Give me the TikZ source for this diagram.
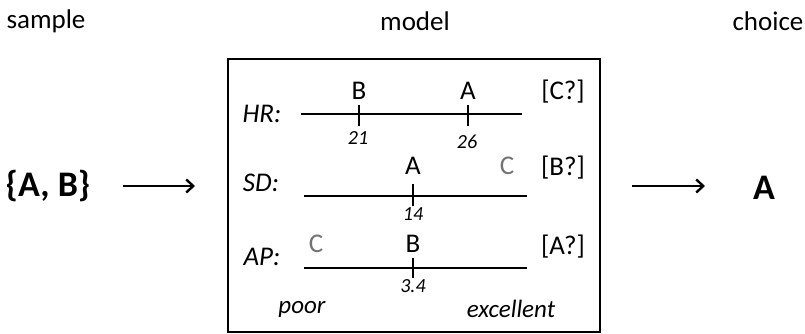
\documentclass[tikz,border=0pt]{standalone}
\usepackage{fontspec}
\setmainfont{Carlito}
\usetikzlibrary{arrows.meta}
\begin{document}
\begin{tikzpicture}[x=1pt,y=-1pt,
  title/.style={font=\fontsize{27}{30}\selectfont},
  big/.style={font=\fontsize{36}{40}\selectfont\bfseries},
  lab/.style={font=\fontsize{27}{30}\selectfont},
  glab/.style={lab,text=black!55},
  axname/.style={font=\fontsize{27}{30}\selectfont\itshape},
  num/.style={font=\fontsize{20}{24}\selectfont\itshape},
  endlab/.style={font=\fontsize{25}{28}\selectfont\itshape},
  scaleline/.style={line width=2.6pt},
  tickmark/.style={line width=1.4pt},
  arr/.style={line width=2.4pt,-{Straight Barb[length=7pt,width=13pt,line width=2.4pt]}},
  inner sep=0pt]
\useasboundingbox (0,0) rectangle (805,334);
% titles
\node[title] (tsample) at (46,21) {sample};
\node[title] (tmodel) at (415,21) {model};
\node[title] (tchoice) at (768,21) {choice};
% sample and choice
\node[big] (setAB) at (48,186) {\{A, B\}};
\node[big] (chA) at (764,188) {A};
% model box
\node[draw,line width=2.8pt,minimum width=372pt,minimum height=273pt] (box) at (414,195.5) {};
% arrows
\coordinate (a1s) at (123,186);
\coordinate (a1e) at (195,186);
\coordinate (a2s) at (632,186);
\coordinate (a2e) at (705,186);
\draw[arr] (a1s) -- (a1e);
\draw[arr] (a2s) -- (a2e);
% HR
\node[axname] (hr) at (262,114) {HR:};
\coordinate (hrl) at (301,114);
\coordinate (hrr) at (522,114);
\draw[scaleline] (hrl) -- (hrr);
\coordinate (hrtB) at (359,105); \coordinate (hrbB) at (359,126);
\coordinate (hrtA) at (468,105); \coordinate (hrbA) at (468,126);
\draw[tickmark] (hrtB) -- (hrbB);
\draw[tickmark] (hrtA) -- (hrbA);
\node[lab] (hrB) at (359,91) {B};
\node[lab] (hrA) at (468,91) {A};
\node[num] (hr21) at (358,138) {21};
\node[num] (hr26) at (467,142) {26};
\node[lab] (hrq) at (563,92) {[C?]};
% SD
\node[axname] (sd) at (261,183) {SD:};
\coordinate (sdl) at (304,196);
\coordinate (sdr) at (527,196);
\draw[scaleline] (sdl) -- (sdr);
\coordinate (sdtA) at (413,184); \coordinate (sdbA) at (413,206);
\draw[tickmark] (sdtA) -- (sdbA);
\node[lab] (sdA) at (413,166) {A};
\node[glab] (sdC) at (507,166) {C};
\node[num] (sd14) at (413,214) {14};
\node[lab] (sdq) at (563,168) {[B?]};
% AP
\node[axname] (ap) at (262,257) {AP:};
\coordinate (apl) at (304,268);
\coordinate (apr) at (527,268);
\draw[scaleline] (apl) -- (apr);
\coordinate (aptB) at (413,258); \coordinate (apbB) at (413,278);
\draw[tickmark] (aptB) -- (apbB);
\node[lab] (apB) at (413,244) {B};
\node[glab] (apC) at (316,244) {C};
\node[num] (ap34) at (413,286) {3.4};
\node[lab] (apq) at (563,247) {[A?]};
% ends
\node[endlab] (poor) at (302,309) {poor};
\node[endlab] (exc) at (511,309) {excellent};
\end{tikzpicture}
\end{document}
